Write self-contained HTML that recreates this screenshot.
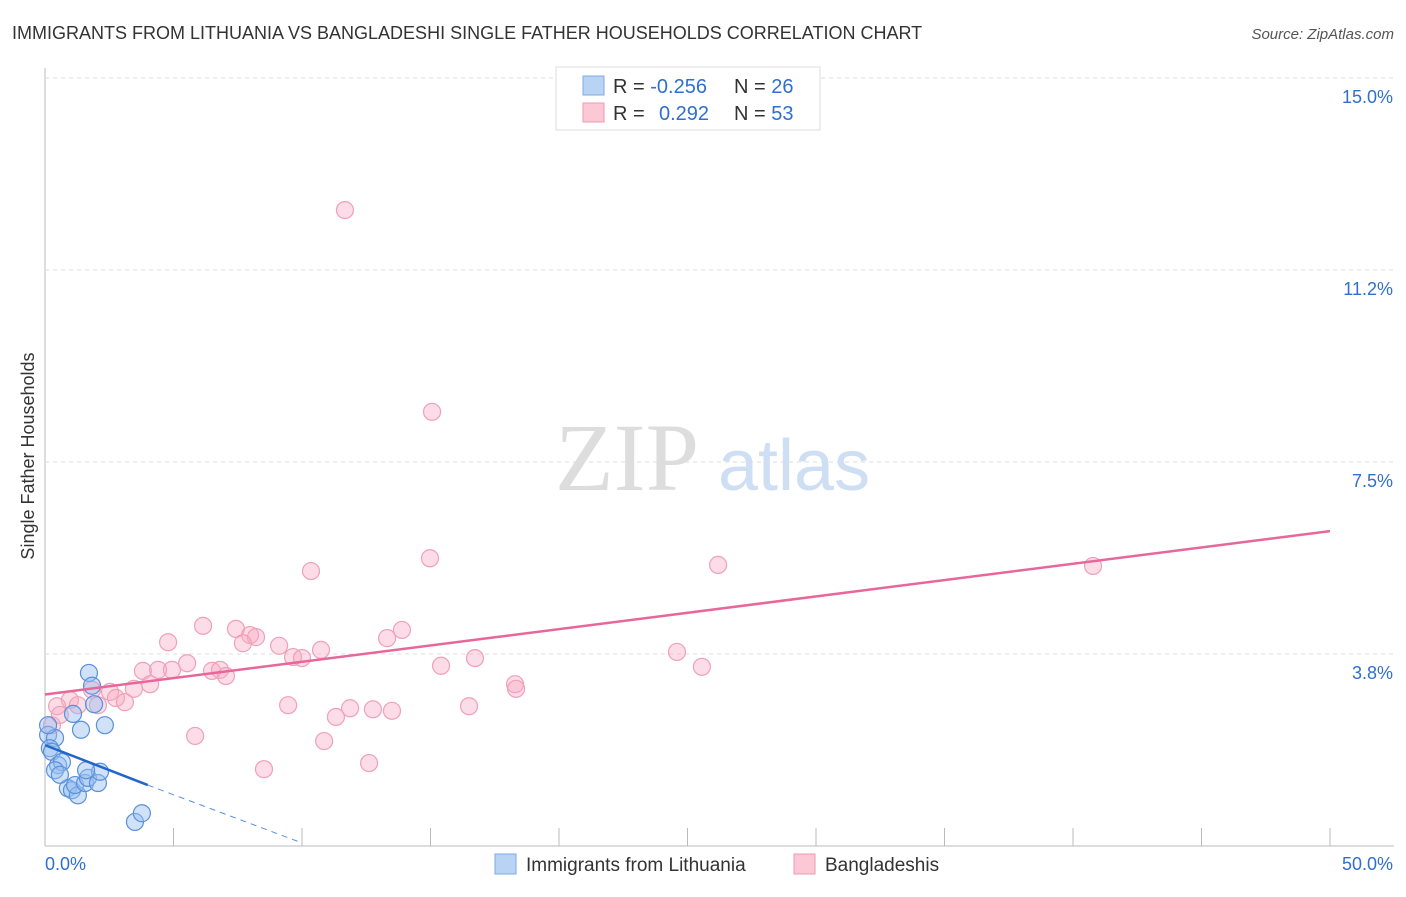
<!DOCTYPE html>
<html><head><meta charset="utf-8"><style>
body{margin:0;background:#fff;font-family:"Liberation Sans",sans-serif}
</style></head><body>
<svg width="1406" height="892" xmlns="http://www.w3.org/2000/svg" font-family="Liberation Sans, sans-serif">
<text x="12" y="39" font-size="18" fill="#333">IMMIGRANTS FROM LITHUANIA VS BANGLADESHI SINGLE FATHER HOUSEHOLDS CORRELATION CHART</text>
<text x="1394" y="39" font-size="15" fill="#555" text-anchor="end" font-style="italic">Source: ZipAtlas.com</text>
<g id="grid"></g>
<text x="555" y="490" font-size="96" fill="#ddd" font-family="Liberation Serif, serif">ZIP</text>
<text x="718" y="490" font-size="72" fill="#cfdff3">atlas</text>
<text transform="translate(34,456) rotate(-90)" font-size="18" fill="#333" text-anchor="middle">Single Father Households</text>
<g id="marks"></g>
<g>
<rect x="556" y="67" width="264" height="63" fill="#fff" stroke="#ddd"/>
<rect x="583" y="76" width="21" height="19" fill="#b9d3f5" stroke="#7fa8e0"/>
<rect x="583" y="103" width="21" height="19" fill="#fcc8d6" stroke="#ee9ab2"/>
<text x="613" y="93" font-size="20" fill="#333">R = <tspan fill="#2f6fd0">-0.256</tspan></text>
<text x="734" y="93" font-size="20" fill="#333">N = <tspan fill="#2f6fd0">26</tspan></text>
<text x="613" y="120" font-size="20" fill="#333">R = <tspan fill="#2f6fd0" x="659">0.292</tspan></text>
<text x="734" y="120" font-size="20" fill="#333">N = <tspan fill="#2f6fd0">53</tspan></text>
</g>
<g>
<rect x="495" y="854" width="21" height="20" fill="#b9d3f5" stroke="#7fa8e0"/>
<text x="526" y="871" font-size="19" fill="#333">Immigrants from Lithuania</text>
<rect x="794" y="854" width="21" height="20" fill="#fcc8d6" stroke="#ee9ab2"/>
<text x="825" y="871" font-size="19" fill="#333">Bangladeshis</text>
</g>
</svg>
<script>
const yTicks=[3.75,7.5,11.25,15];
const yTickLabels=["3.8%","7.5%","11.2%","15.0%"];
const xTickLabels=["0.0%","50.0%"];
const blueX=[0.12,0.39,0.19,0.27,0.51,0.66,0.39,0.89,1.05,1.28,1.17,1.56,1.67,2.06,2.14,1.60,1.71,1.83,1.91,1.09,1.40,2.33,3.50,3.77,0.12,0.58];
const blueY=[2.17,2.11,1.91,1.84,1.58,1.64,1.48,1.13,1.09,0.99,1.19,1.23,1.33,1.23,1.45,1.48,3.38,3.13,2.77,2.58,2.27,2.36,0.47,0.64,2.36,1.39];
const pinkX=[11.67,15.06,14.98,10.35,26.19,40.78,6.15,7.43,7.98,8.21,4.79,7.70,9.11,10.74,13.31,13.89,16.73,9.65,10.00,24.59,5.53,3.81,4.40,4.94,6.50,6.81,7.04,15.41,25.56,4.09,3.46,1.83,2.53,2.76,3.11,0.97,1.28,2.06,0.47,9.46,11.87,12.76,13.50,11.32,16.50,18.29,18.33,5.84,10.86,8.52,12.61,0.27,0.58];
const pinkY=[12.42,8.48,5.62,5.37,5.49,5.47,4.30,4.24,4.12,4.08,3.98,3.96,3.91,3.83,4.06,4.22,3.67,3.69,3.67,3.79,3.57,3.42,3.44,3.44,3.42,3.44,3.32,3.52,3.50,3.16,3.07,3.05,3.01,2.89,2.81,2.85,2.75,2.75,2.73,2.75,2.69,2.67,2.64,2.52,2.73,3.16,3.07,2.15,2.05,1.50,1.62,2.36,2.56];
const pinkTrend=[0,2.96,50,6.15];
const blueTrend=[0,1.97,4.0,1.19,10.0,0.06];
const X=v=>45+v*25.7, Y=v=>846-v*51.2;
const NS="http://www.w3.org/2000/svg";
const grid=document.getElementById('grid'), marks=document.getElementById('marks');
function mk(tag,attrs,parent){const e=document.createElementNS(NS,tag);for(const k in attrs)e.setAttribute(k,attrs[k]);parent.appendChild(e);return e;}
let ax=mk('line',{x1:45,y1:68,x2:45,y2:846,stroke:'#bbb'},grid);


let bx=mk('line',{x1:45,y1:846,x2:1394,y2:846,stroke:'#bbb'},grid);


yTicks.forEach((t,i)=>{
 let g=mk('line',{x1:45,y1:Y(t),x2:1394,y2:Y(t),stroke:'#ddd','stroke-dasharray':'4,4'},grid);
 
 
 let l=mk('text',{x:1393,y:Y(t)+25,'font-size':18,fill:'#2f6fd0','text-anchor':'end'},grid);
 l.textContent=yTickLabels[i];
 
 
});
for(let k=1;k<=10;k++){
 let t=mk('line',{x1:X(k*5),y1:828,x2:X(k*5),y2:846,stroke:'#bbb'},grid);
 
 
}
[[0,'start',45],[1,'end',1393]].forEach(([i,a,x])=>{
 let l=mk('text',{x:x,y:870,'font-size':18,fill:'#2f6fd0','text-anchor':a},grid);
 l.textContent=xTickLabels[i];
 
 
});
pinkX.forEach((v,i)=>{
 let c=mk('circle',{cx:X(v),cy:Y(pinkY[i]),r:8.5,fill:'rgba(248,170,195,0.4)',stroke:'#f0a0b8','stroke-width':1.2},marks);
 
 
});
blueX.forEach((v,i)=>{
 let c=mk('circle',{cx:X(v),cy:Y(blueY[i]),r:8.5,fill:'rgba(150,190,240,0.45)',stroke:'#5a90dc','stroke-width':1.2},marks);
 
 
});
let pt=mk('line',{x1:X(pinkTrend[0]),y1:Y(pinkTrend[1]),x2:X(pinkTrend[2]),y2:Y(pinkTrend[3]),stroke:'#e8679a','stroke-width':2.5},marks);


let bt=mk('line',{x1:X(blueTrend[0]),y1:Y(blueTrend[1]),x2:X(blueTrend[2]),y2:Y(blueTrend[3]),stroke:'#2266cc','stroke-width':2.5},marks);


let bd=mk('line',{x1:X(blueTrend[2]),y1:Y(blueTrend[3]),x2:X(blueTrend[4]),y2:Y(blueTrend[5]),stroke:'#5a90dc','stroke-width':1,'stroke-dasharray':'6,5'},marks);


</script>
</body></html>
